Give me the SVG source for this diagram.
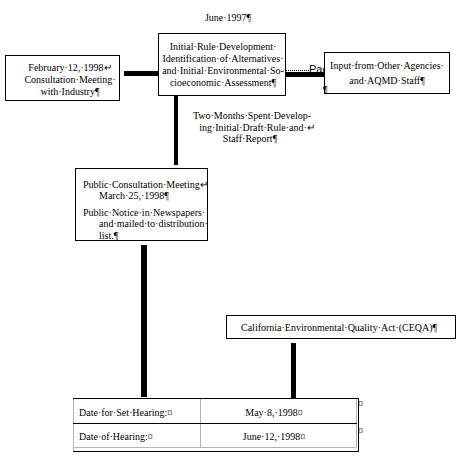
<svg xmlns="http://www.w3.org/2000/svg" width="464" height="467" viewBox="0 0 464 467">
<style>
text{font-family:"Liberation Serif","Times New Roman",serif;font-size:10px;fill:#000}
.box{fill:#fff;stroke:#000;stroke-width:1}
.c{text-anchor:middle}
.thick{fill:#000}
.gray{stroke:#b4b4b4;stroke-width:1;fill:none}
.blk{stroke:#000;stroke-width:1;fill:none}
</style>
<rect width="464" height="467" fill="#fff"/>
<g id="connectors">
<rect class="thick" x="124" y="71" width="35" height="5"/>
<rect class="thick" x="286" y="72" width="38" height="5"/>
<rect class="thick" x="174" y="96" width="4" height="69"/>
<rect class="thick" x="141" y="245" width="6" height="152"/>
<rect class="thick" x="291" y="343" width="5" height="55"/>
<line x1="286" y1="70.5" x2="309" y2="70.5" stroke="#000" stroke-width="1" stroke-dasharray="1,1"/>
<text x="309" y="73" style="font-family:'Liberation Sans',Arial,sans-serif;font-size:11px">Pag</text>
</g>
<g id="june-label">
<text class="c" x="228" y="20.5">June·1997¶</text>
</g>
<g id="node-feb">
<rect class="box" x="5.5" y="55.5" width="114" height="45"/>
<text class="c" x="70" y="71">February·12,·1998↵</text>
<text class="c" x="70" y="83">Consultation·Meeting·</text>
<text class="c" x="70" y="95">with·Industry¶</text>
</g>
<g id="node-initial">
<rect class="box" x="158.5" y="33.5" width="127" height="62"/>
<text class="c" x="223" y="50">Initial·Rule·Development·</text>
<text class="c" x="223" y="62">Identification·of·Alternatives·</text>
<text class="c" x="223" y="74">and·Initial·Environmental·So-</text>
<text class="c" x="223" y="86">cioeconomic·Assessment¶</text>
</g>
<g id="node-input">
<rect class="box" x="324.5" y="52.5" width="125" height="41"/>
<text class="c" x="387" y="68.5">Input·from·Other·Agencies·</text>
<text class="c" x="387" y="83.5">and·AQMD·Staff¶</text>
<text x="323" y="93">¶</text>
</g>
<g id="two-months-label">
<text class="c" x="252" y="118.5">Two·Months·Spent·Develop-</text>
<text class="c" x="257" y="130.5">ing·Initial·Draft·Rule·and·↵</text>
<text class="c" x="250" y="141.5">Staff·Report¶</text>
</g>
<g id="node-public">
<rect class="box" x="75.5" y="168.5" width="132" height="72"/>
<text x="83" y="187.5">Public·Consultation·Meeting↵</text>
<text x="99" y="198.5">March·25,·1998¶</text>
<text x="83" y="215.5">Public·Notice·in·Newspapers·</text>
<text x="99" y="226.5">and·mailed·to·distribution·</text>
<text x="99" y="238.5">list.¶</text>
</g>
<g id="node-ceqa">
<rect class="box" x="226.5" y="315.5" width="229" height="23"/>
<text x="241" y="330.5">California·Environmental·Quality·Act·(CEQA)¶</text>
</g>
<g id="node-hearing-table">
<rect x="73" y="398" width="285" height="53" fill="#fff"/>
<line class="gray" x1="200.5" y1="398" x2="200.5" y2="447"/>
<line class="gray" x1="73" y1="447.5" x2="356" y2="447.5"/>
<line class="gray" x1="356.5" y1="398" x2="356.5" y2="447"/>
<line class="gray" x1="73.5" y1="398" x2="73.5" y2="451"/>
<line class="blk" x1="73" y1="398.5" x2="359" y2="398.5"/>
<line class="blk" x1="73" y1="423.5" x2="357" y2="423.5"/>
<line class="blk" x1="358.5" y1="398" x2="358.5" y2="452"/>
<line class="blk" x1="73" y1="451.5" x2="359" y2="451.5"/>
<text x="79" y="415.5">Date·for·Set·Hearing:¤</text>
<text x="79" y="439.5">Date·of·Hearing:¤</text>
<text class="c" x="274" y="415.5">May·8,·1998¤</text>
<text class="c" x="274" y="439.5">June·12,·1998¤</text>
<text x="358" y="407">¤</text>
<text x="358" y="434">¤</text>
</g>
</svg>
